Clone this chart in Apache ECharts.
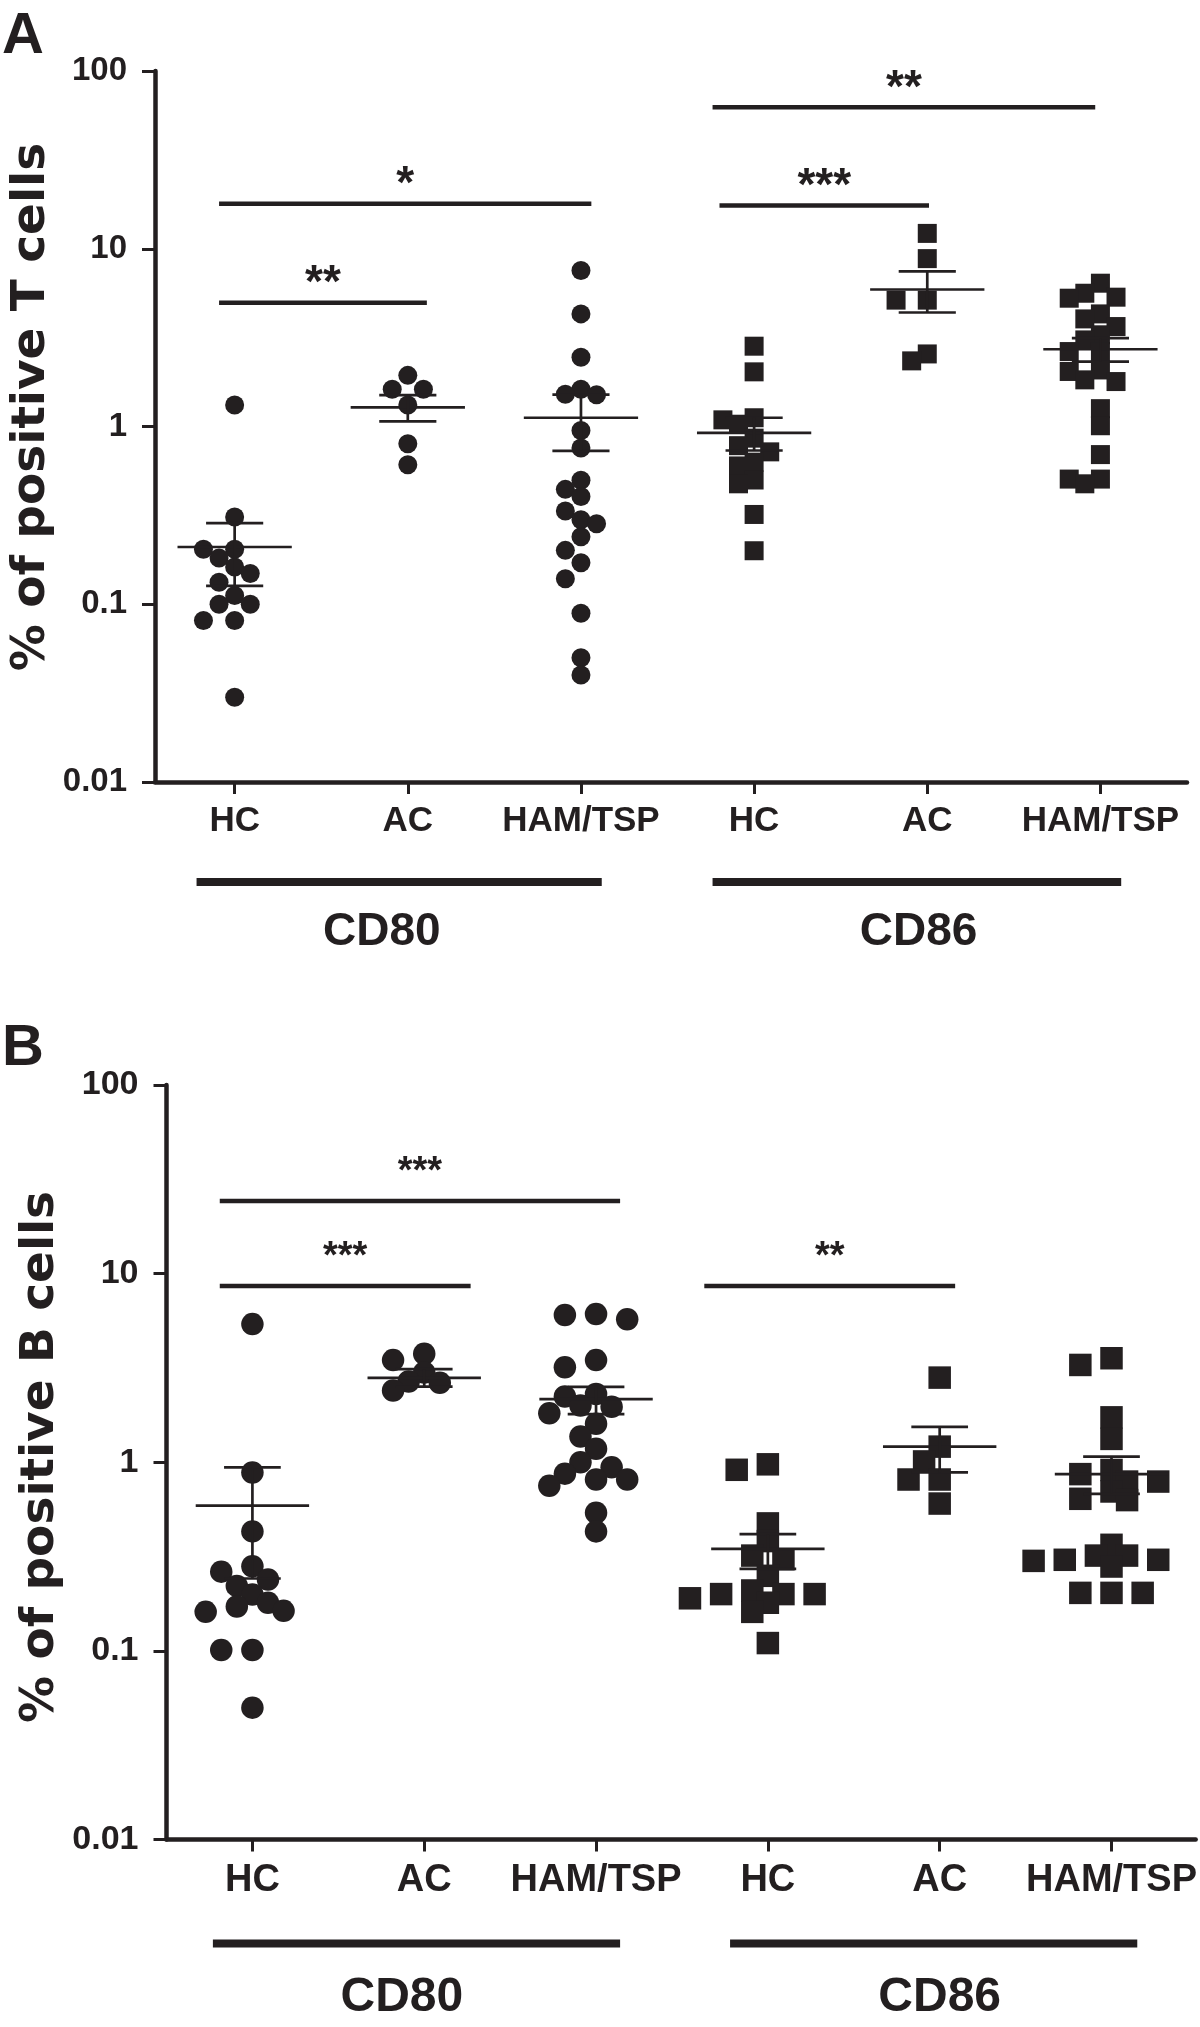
<!DOCTYPE html>
<html>
<head>
<meta charset="utf-8">
<title>CD80 / CD86 on T and B cells</title>
<script src="https://cdn.jsdelivr.net/npm/echarts@6/dist/echarts.min.js"></script>
<style>
  html, body { margin: 0; background: #fff; }
  #chart { width: 1200px; height: 2027px; }
</style>
</head>
<body>
<div id="chart"></div>
<script>
// groups on the x axis, two markers
const groups = ['HC', 'AC', 'HAM/TSP', 'HC', 'AC', 'HAM/TSP']
const markers = ['CD80', 'CD86']
const yTicks = [0.01, 0.1, 1, 10, 100]

// A: % of positive T cells
const tCD80HC = [1.32, 0.31, 0.204, 0.204, 0.182, 0.162, 0.149, 0.133, 0.112, 0.1, 0.1, 0.081, 0.081, 0.03]
const tCD80AC = [1.94, 1.62, 1.62, 1.32, 0.8, 0.61]
const tCD80HAM = [7.54, 4.3, 2.45, 1.62, 1.52, 1.51, 0.95, 0.757, 0.499, 0.443, 0.404, 0.335, 0.299, 0.284, 0.24, 0.201, 0.171, 0.139, 0.089, 0.05, 0.04]
const tCD86HC = [2.83, 2.03, 1.12, 1.09, 1.03, 0.86, 0.78, 0.72, 0.63, 0.6, 0.5, 0.476, 0.32, 0.2]
const tCD86AC = [12.2, 8.8, 5.14, 5.14, 2.56, 2.34]
const tCD86HAM = [6.4, 5.62, 5.34, 5.27, 4.3, 4.03, 3.65, 3.28, 3.07, 2.64, 2.64, 2.08, 2.04, 1.83, 1.79, 1.26, 1.01, 0.695, 0.506, 0.506, 0.476]
const tMean = [0.21, 1.28, 1.12, 0.92, 5.9, 2.72]
const tSemLo = [0.127, 1.07, 0.73, 0.733, 4.38, 2.32]
const tSemHi = [0.286, 1.5, 1.51, 1.12, 7.45, 3.14]
// significance brackets: from, to (x axis units), height, label
const tSigFrom = [-0.09, -0.09, 2.8, 2.76]
const tSigTo = [1.11, 2.06, 4.01, 4.97]
const tSigAt = [4.97, 17.9, 17.5, 62.5]
const tSigText = ['**', '*', '***', '**']

// B: % of positive B cells
const bCD80HC = [5.4, 0.883, 0.43, 0.281, 0.263, 0.239, 0.221, 0.199, 0.18, 0.172, 0.163, 0.161, 0.101, 0.101, 0.05]
const bCD80AC = [3.76, 3.48, 2.99, 2.68, 2.64, 2.4]
const bCD80HAM = [6.11, 6.03, 5.73, 3.48, 3.19, 2.3, 2.23, 2.0, 1.97, 1.82, 1.6, 1.37, 1.18, 1.0, 0.94, 0.87, 0.81, 0.81, 0.75, 0.54, 0.43]
const bCD86HC = [0.975, 0.912, 0.474, 0.382, 0.32, 0.306, 0.25, 0.209, 0.2, 0.2, 0.2, 0.19, 0.18, 0.161, 0.11]
const bCD86AC = [2.81, 1.21, 1.01, 0.81, 0.81, 0.604]
const bCD86HAM = [3.56, 3.28, 1.73, 1.33, 0.91, 0.865, 0.79, 0.79, 0.7, 0.64, 0.63, 0.365, 0.32, 0.32, 0.304, 0.304, 0.3, 0.28, 0.203, 0.203, 0.203]
const bMean = [0.589, 2.8, 2.16, 0.347, 1.21, 0.866]
const bSemLo = [0.242, 2.52, 1.8, 0.272, 0.883, 0.68]
const bSemHi = [0.94, 3.12, 2.51, 0.416, 1.54, 1.07]
const bSigFrom = [-0.19, -0.19, 2.63]
const bSigTo = [1.27, 2.14, 4.09]
const bSigAt = [8.6, 24.3, 8.6]
const bSigText = ['***', '***', '**']

const ink = '#231f20'
const sans = '"Liberation Sans", Arial, Helvetica, sans-serif'

const panels = [
  {
    letter: 'A', title: '% of positive T cells',
    groupsData: [tCD80HC, tCD80AC, tCD80HAM, tCD86HC, tCD86AC, tCD86HAM],
    mean: tMean, lo: tSemLo, hi: tSemHi,
    sig: [tSigFrom, tSigTo, tSigAt], sigText: tSigText,
    bars: [[-0.22, 2.12, 0.85], [2.76, 5.12, 3.95]],
    left: 155, top: 71, width: 1032, height: 711, xMin: -0.46, xMax: 5.5,
    tickFont: 33, catFont: 35, catMargin: 22, markerFont: 46, starFont: 46, starLift: 18,
    symbol: 19, swarmDist: 16, titleX: 32, titleY: 407, letterY: 37, barDy: 100, labelDy: 150
  },
  {
    letter: 'B', title: '% of positive B cells',
    groupsData: [bCD80HC, bCD80AC, bCD80HAM, bCD86HC, bCD86AC, bCD86HAM],
    mean: bMean, lo: bSemLo, hi: bSemHi,
    sig: [bSigFrom, bSigTo, bSigAt], sigText: bSigText,
    bars: [[-0.23, 2.14, 0.87], [2.78, 5.15, 4.0]],
    left: 166.5, top: 1085, width: 1030.5, height: 754.5, xMin: -0.5, xMax: 5.49,
    tickFont: 34, catFont: 38, catMargin: 22, markerFont: 48, starFont: 38, starLift: 28,
    symbol: 22.5, swarmDist: 17.5, titleX: 41, titleY: 1457, letterY: 1049, barDy: 104, labelDy: 158
  }
]

// simple beeswarm: spread points of similar value over lanes, in pixels
const swarm = (values, center, p) => {
  const step = 15.6
  const pxX = p.width / (p.xMax - p.xMin)
  const pxY = p.height / 4
  const placed = []
  const out = []
  values.slice().sort((a, b) => b - a).forEach(v => {
    const py = Math.log10(v) * pxY
    for (let k = 0; k < 11; k++) {
      const lane = k === 0 ? 0 : (k % 2 ? -(k + 1) / 2 : k / 2)
      const px = lane * step
      if (placed.every(q => Math.hypot(q[0] - px, q[1] - py) >= p.swarmDist)) {
        placed.push([px, py])
        out.push([center + px / pxX, v])
        break
      }
    }
  })
  return out
}

const option = {
  animation: false,
  grid: [],
  xAxis: [],
  yAxis: [],
  series: [],
  graphic: []
}

panels.forEach((p, pi) => {
  option.grid.push({
    left: p.left, top: p.top, width: p.width, height: p.height, containLabel: false
  })
  option.xAxis.push({
    type: 'value', gridIndex: pi, min: p.xMin, max: p.xMax,
    axisLine: { onZero: false, lineStyle: { color: ink, width: 4.5 } },
    axisTick: { customValues: [0, 1, 2, 3, 4, 5], length: 12, lineStyle: { color: ink, width: 3 } },
    axisLabel: {
      customValues: [0, 1, 2, 3, 4, 5],
      formatter: v => groups[Math.round(v)],
      color: ink, fontFamily: sans, fontWeight: 'bold', fontSize: p.catFont, margin: p.catMargin
    },
    splitLine: { show: false }
  })
  option.yAxis.push({
    type: 'log', gridIndex: pi, min: yTicks[0], max: yTicks[yTicks.length - 1], logBase: 10,
    axisLine: { onZero: false, lineStyle: { color: ink, width: 4.5 } },
    axisTick: { length: 13, lineStyle: { color: ink, width: 3 } },
    axisLabel: {
      formatter: v => String(+v.toPrecision(1)),
      color: ink, fontFamily: sans, fontWeight: 'bold', fontSize: p.tickFont, margin: 28
    },
    splitLine: { show: false }
  })

  // dots
  p.groupsData.forEach((vals, gi) => {
    option.series.push({
      type: 'scatter', xAxisIndex: pi, yAxisIndex: pi,
      symbol: gi < 3 ? 'circle' : 'rect',
      symbolSize: p.symbol,
      itemStyle: { color: ink, opacity: 1 },
      silent: true,
      data: swarm(vals, gi, p)
    })
  })

  // mean +/- SEM
  option.series.push({
    type: 'custom', xAxisIndex: pi, yAxisIndex: pi, silent: true, z: 5, clip: false,
    data: p.mean.map((m, i) => [i, m, p.lo[i], p.hi[i]]),
    renderItem: (params, api) => {
      const x = api.value(0)
      const m0 = api.coord([x - 0.33, api.value(1)])
      const m1 = api.coord([x + 0.33, api.value(1)])
      const l0 = api.coord([x - 0.165, api.value(2)])
      const l1 = api.coord([x + 0.165, api.value(2)])
      const h0 = api.coord([x - 0.165, api.value(3)])
      const h1 = api.coord([x + 0.165, api.value(3)])
      const st = { stroke: ink, lineWidth: 2.7 }
      const seg = (a, b) => ({ type: 'line', shape: { x1: a[0], y1: a[1], x2: b[0], y2: b[1] }, style: st })
      const cx = (m0[0] + m1[0]) / 2
      return {
        type: 'group',
        children: [
          seg(m0, m1), seg(l0, l1), seg(h0, h1),
          seg([cx, l0[1]], [cx, h0[1]])
        ]
      }
    }
  })

  // significance brackets
  option.series.push({
    type: 'custom', xAxisIndex: pi, yAxisIndex: pi, silent: true, z: 6, clip: false,
    encode: { x: [0, 1], y: 2 },
    data: p.sig[0].map((a, i) => [a, p.sig[1][i], p.sig[2][i]]),
    renderItem: (params, api) => {
      const a = api.coord([api.value(0), api.value(2)])
      const b = api.coord([api.value(1), api.value(2)])
      return {
        type: 'group',
        children: [
          { type: 'line', shape: { x1: a[0], y1: a[1], x2: b[0], y2: b[1] }, style: { stroke: ink, lineWidth: 4.5 } },
          {
            type: 'text', x: (a[0] + b[0]) / 2, y: a[1] - p.starLift,
            style: {
              text: p.sigText[params.dataIndex], fill: ink,
              font: `bold ${p.starFont}px ${sans}`, align: 'center', verticalAlign: 'middle'
            }
          }
        ]
      }
    }
  })

  // marker bars and names under the axis
  option.series.push({
    type: 'custom', xAxisIndex: pi, yAxisIndex: pi, silent: true, clip: false,
    encode: { x: [0, 1, 2], y: 1 },
    data: p.bars,
    renderItem: (params, api) => {
      const a = api.coord([api.value(0), yTicks[0]])
      const b = api.coord([api.value(1), yTicks[0]])
      const c = api.coord([api.value(2), yTicks[0]])
      return {
        type: 'group',
        children: [
          { type: 'rect', shape: { x: a[0], y: a[1] + p.barDy - 4, width: b[0] - a[0], height: 8 }, style: { fill: ink } },
          {
            type: 'text', x: c[0], y: a[1] + p.labelDy,
            style: {
              text: markers[params.dataIndex], fill: ink,
              font: `bold ${p.markerFont}px ${sans}`, align: 'center', verticalAlign: 'middle'
            }
          }
        ]
      }
    }
  })

  option.graphic.push({
    type: 'text', x: p.titleX, y: p.titleY, rotation: Math.PI / 2,
    style: {
      text: p.title, fill: ink, font: `bold 47px "DejaVu Sans", ${sans}`,
      align: 'center', verticalAlign: 'middle'
    }
  })
  option.graphic.push({
    type: 'text', x: 2, y: p.letterY,
    style: { text: p.letter, fill: ink, font: `bold 58px ${sans}`, align: 'left', verticalAlign: 'middle' }
  })
})

const myChart = echarts.init(document.getElementById('chart'), null, { renderer: 'canvas' })
myChart.setOption(option)
window.addEventListener('resize', () => myChart.resize())
</script>
</body>
</html>
